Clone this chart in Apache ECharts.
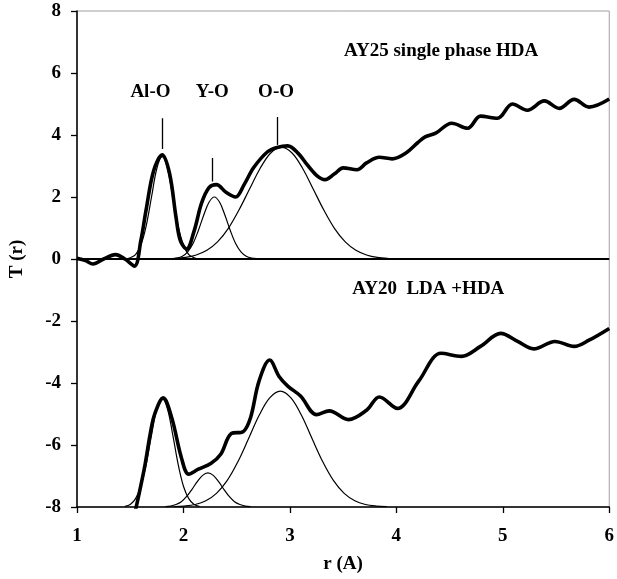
<!DOCTYPE html>
<html>
<head>
<meta charset="utf-8">
<script src="https://cdn.jsdelivr.net/npm/echarts@6/dist/echarts.min.js"></script>
<style>
  html, body { margin: 0; padding: 0; background: #fff; }
  #chart { width: 617px; height: 579px; }
</style>
</head>
<body>
<div id="chart"></div>
<script>
// upper panel (AY25), total T(r) curve
const ay25R = [1.00, 1.08, 1.15, 1.25, 1.36, 1.45, 1.54, 1.60, 1.65, 1.72, 1.80, 1.87, 1.93, 1.97, 2.03, 2.10, 2.17, 2.24, 2.31, 2.40, 2.49, 2.57, 2.66, 2.79, 2.88, 2.98, 3.08, 3.16, 3.25, 3.33, 3.42, 3.50, 3.63, 3.72, 3.84, 3.96, 4.09, 4.20, 4.27, 4.37, 4.52, 4.67, 4.79, 4.95, 5.09, 5.23, 5.39, 5.53, 5.67, 5.81, 6.00];
const ay25T = [0.02, -0.05, -0.16, 0.00, 0.14, 0.00, -0.23, 0.60, 1.60, 2.85, 3.36, 2.75, 1.35, 0.60, 0.32, 0.90, 1.80, 2.30, 2.40, 2.15, 2.00, 2.40, 2.95, 3.46, 3.60, 3.65, 3.40, 3.05, 2.70, 2.56, 2.75, 2.94, 2.88, 3.10, 3.28, 3.23, 3.42, 3.75, 3.94, 4.06, 4.38, 4.22, 4.61, 4.54, 5.00, 4.80, 5.10, 4.86, 5.15, 4.90, 5.16];

// upper panel fitted peaks
const ay25AlR = [1.45, 1.50, 1.55, 1.60, 1.65, 1.70, 1.75, 1.80, 1.85, 1.90, 1.95, 2.00, 2.05, 2.10, 2.15];
const ay25AlT = [0.00, 0.04, 0.14, 0.45, 1.07, 2.00, 2.92, 3.30, 2.92, 2.00, 1.07, 0.45, 0.14, 0.04, 0.00];
const ay25YR = [1.89, 1.94, 1.99, 2.04, 2.09, 2.14, 2.19, 2.24, 2.29, 2.34, 2.39, 2.44, 2.49, 2.54, 2.59, 2.64, 2.69];
const ay25YT = [0.01, 0.03, 0.09, 0.23, 0.50, 0.92, 1.41, 1.83, 2.00, 1.83, 1.41, 0.92, 0.50, 0.23, 0.09, 0.03, 0.01];
const ay25OR = [1.92, 2.02, 2.12, 2.22, 2.32, 2.42, 2.52, 2.62, 2.72, 2.82, 2.92, 3.02, 3.12, 3.22, 3.32, 3.42, 3.52, 3.62, 3.72, 3.82, 3.92];
const ay25OT = [0.02, 0.05, 0.13, 0.28, 0.55, 0.98, 1.57, 2.25, 2.92, 3.42, 3.60, 3.42, 2.92, 2.25, 1.57, 0.98, 0.55, 0.28, 0.13, 0.05, 0.02];

// lower panel (AY20), total T(r) curve
const ay20R = [1.55, 1.60, 1.64, 1.69, 1.73, 1.81, 1.89, 1.98, 2.05, 2.14, 2.26, 2.35, 2.45, 2.56, 2.63, 2.71, 2.81, 2.90, 2.98, 3.10, 3.25, 3.37, 3.55, 3.72, 3.84, 4.01, 4.21, 4.42, 4.61, 4.79, 4.98, 5.14, 5.29, 5.49, 5.67, 5.81, 6.00];
const ay20T = [-8.10, -7.30, -6.62, -5.60, -5.00, -4.48, -5.12, -6.40, -6.94, -6.78, -6.59, -6.30, -5.63, -5.57, -5.12, -3.94, -3.26, -3.80, -4.10, -4.42, -5.02, -4.90, -5.18, -4.88, -4.45, -4.82, -3.94, -3.04, -3.14, -2.82, -2.40, -2.66, -2.90, -2.66, -2.82, -2.62, -2.24];

// lower panel fitted peaks
const ay20AlR = [1.45, 1.50, 1.55, 1.60, 1.65, 1.70, 1.75, 1.80, 1.85, 1.90, 1.95, 2.00, 2.05, 2.10, 2.15];
const ay20AlT = [-7.98, -7.92, -7.73, -7.33, -6.62, -5.68, -4.84, -4.50, -4.84, -5.68, -6.62, -7.33, -7.73, -7.92, -7.98];
const ay20YR = [1.83, 1.88, 1.93, 1.98, 2.03, 2.08, 2.13, 2.18, 2.23, 2.28, 2.33, 2.38, 2.43, 2.48, 2.53, 2.58, 2.63];
const ay20YT = [-7.99, -7.97, -7.92, -7.83, -7.66, -7.43, -7.18, -6.98, -6.90, -6.98, -7.18, -7.43, -7.66, -7.83, -7.92, -7.97, -7.99];
const ay20OR = [1.91, 2.01, 2.11, 2.21, 2.31, 2.41, 2.51, 2.61, 2.71, 2.81, 2.91, 3.01, 3.11, 3.21, 3.31, 3.41, 3.51, 3.61, 3.71, 3.81, 3.91];
const ay20OT = [-7.99, -7.97, -7.92, -7.80, -7.56, -7.15, -6.55, -5.81, -5.05, -4.48, -4.26, -4.48, -5.05, -5.81, -6.55, -7.15, -7.56, -7.80, -7.92, -7.97, -7.99];

// annotations (data coordinates)
const peakNames = ['Al-O', 'Y-O', 'O-O'];
const peakNameR = [1.69, 2.27, 2.87];
const peakNameT = 5.38;
const peakTickR = [1.80, 2.27, 2.88];
const peakTickLow = [3.55, 2.50, 3.68];
const peakTickHigh = [4.54, 3.26, 4.58];
const panelTitles = ['AY25 single phase HDA', 'AY20  LDA +HDA'];
const panelTitleR = [4.42, 4.30];
const panelTitleT = [6.72, -0.96];

const xTicks = [1, 2, 3, 4, 5, 6];
const yTicks = [-8, -6, -4, -2, 0, 2, 4, 6, 8];

const zip = (a, b) => a.map((v, i) => [v, b[i]]);
const font = 'Liberation Serif, Times New Roman, serif';

const thick = { color: '#000', width: 3.6 };
const thin = { color: '#000', width: 1.2 };

function curve(r, t, style) {
  return {
    type: 'line', data: zip(r, t), showSymbol: false, symbol: 'none',
    smooth: 0.35, lineStyle: style, itemStyle: { color: '#000' }, silent: true
  };
}

const series = [
  curve(ay25AlR, ay25AlT, thin),
  curve(ay25YR, ay25YT, thin),
  curve(ay25OR, ay25OT, thin),
  curve(ay20AlR, ay20AlT, thin),
  curve(ay20YR, ay20YT, thin),
  curve(ay20OR, ay20OT, thin),
  curve(ay25R, ay25T, thick),
  curve(ay20R, ay20T, thick)
];

// baseline of upper panel, peak markers and labels
series[0].markLine = {
  silent: true, symbol: 'none', animation: false,
  label: { show: false },
  data: [
    { yAxis: 0, lineStyle: { color: '#000', width: 2.2, type: 'solid' } }
  ].concat(peakTickR.map((r, i) => [
    { coord: [r, peakTickLow[i]], lineStyle: { color: '#000', width: 1.3, type: 'solid' } },
    { coord: [r, peakTickHigh[i]] }
  ]))
};
series[0].markPoint = {
  silent: true, symbol: 'circle', symbolSize: 0, animation: false,
  label: {
    show: true, position: 'inside', color: '#000',
    fontFamily: font, fontWeight: 'bold', fontSize: 19,
    formatter: p => p.name
  },
  data: peakNames.map((n, i) => ({ name: n, coord: [peakNameR[i], peakNameT] }))
    .concat(panelTitles.map((n, i) => ({ name: n, coord: [panelTitleR[i], panelTitleT[i]] })))
};

const chart = echarts.init(document.getElementById('chart'));
chart.setOption({
  animation: false,
  backgroundColor: '#fff',
  grid: {
    left: 74, right: 4, top: 11, bottom: 69,
    show: true, borderColor: '#a0a0a0', borderWidth: 1
  },
  xAxis: {
    type: 'value', min: xTicks[0], max: xTicks[xTicks.length - 1], interval: 1,
    name: 'r (A)', nameLocation: 'middle', nameGap: 48,
    nameTextStyle: { fontFamily: font, fontWeight: 'bold', fontSize: 19, color: '#000' },
    axisLine: { onZero: false, lineStyle: { color: '#000', width: 1.5 } },
    axisTick: { length: 6, lineStyle: { color: '#000', width: 1.3 } },
    axisLabel: { margin: 20, fontFamily: font, fontWeight: 'bold', fontSize: 19, color: '#000' },
    splitLine: { show: false }
  },
  yAxis: {
    type: 'value', min: yTicks[0], max: yTicks[yTicks.length - 1], interval: 2,
    name: 'T (r)', nameLocation: 'middle', nameGap: 50,
    nameTextStyle: { fontFamily: font, fontWeight: 'bold', fontSize: 19, color: '#000' },
    axisLine: { onZero: false, lineStyle: { color: '#000', width: 1.5 } },
    axisTick: { length: 6, lineStyle: { color: '#000', width: 1.3 } },
    axisLabel: { margin: 16, fontFamily: font, fontWeight: 'bold', fontSize: 19, color: '#000' },
    splitLine: { show: false }
  },
  series: series
});
</script>
</body>
</html>
